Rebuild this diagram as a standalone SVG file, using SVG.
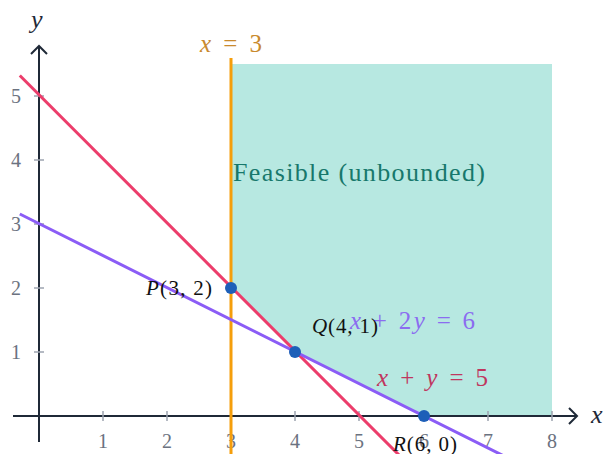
<svg xmlns="http://www.w3.org/2000/svg" width="603" height="454" viewBox="0 0 603 454">
<style>
.axis{stroke:#1f2937;stroke-width:2;fill:none}
.tick{stroke:#9ca3af;stroke-width:1.5}
.tl{font-family:"Liberation Serif",serif;font-size:20px;fill:#6b7280}
.m{font-family:"Liberation Serif",serif;font-style:italic}
.n{font-family:"Liberation Serif",serif;font-style:normal}
.pt{fill:#1d5fb8}
.lbl{font-family:"Liberation Serif",serif;font-size:21px;fill:#111}
</style>
<rect width="603" height="454" fill="#fff"/>
<g id="feasible">
<polygon points="231,64 552,64 552,416 424,416 295,352 231,288" fill="#b7e8e1"/>
<text x="233" y="181" font-family="Liberation Serif, serif" font-size="26" fill="#17786c" textLength="252">Feasible (unbounded)</text>
</g>
<g id="axes">
<line class="axis" x1="13" y1="416" x2="577" y2="416"/>
<path class="axis" d="M569,408 L577,416 L569,424"/>
<line class="axis" x1="39" y1="442" x2="39" y2="46"/>
<path class="axis" d="M31,54 L39,46 L47,54"/>
<g class="tick">
<line x1="103" y1="411" x2="103" y2="421"/><line x1="167" y1="411" x2="167" y2="421"/><line x1="231" y1="411" x2="231" y2="421"/><line x1="295" y1="411" x2="295" y2="421"/><line x1="359" y1="411" x2="359" y2="421"/><line x1="424" y1="411" x2="424" y2="421"/><line x1="488" y1="411" x2="488" y2="421"/><line x1="552" y1="411" x2="552" y2="421"/>
<line x1="34" y1="352" x2="44" y2="352"/><line x1="34" y1="288" x2="44" y2="288"/><line x1="34" y1="224" x2="44" y2="224"/><line x1="34" y1="160" x2="44" y2="160"/><line x1="34" y1="96" x2="44" y2="96"/>
</g>
<g class="tl" text-anchor="middle">
<text x="103" y="448">1</text><text x="167" y="448">2</text><text x="231" y="448">3</text><text x="295" y="448">4</text><text x="359" y="448">5</text><text x="424" y="448">6</text><text x="488" y="448">7</text><text x="552" y="448">8</text>
<text x="16" y="359">1</text><text x="16" y="295">2</text><text x="16" y="231">3</text><text x="16" y="167">4</text><text x="16" y="103">5</text>
</g>
<text class="m" x="591" y="423" font-size="26" fill="#1f2937">x</text>
<text class="m" x="31" y="28" font-size="26" fill="#1f2937">y</text>
</g>
<g id="connectors">
<line x1="231" y1="58" x2="231" y2="460" stroke="#f59e0b" stroke-width="3"/>
<line x1="19.8" y1="75.5" x2="411" y2="467" stroke="#ec3d6b" stroke-width="3"/>
<line x1="19.8" y1="214" x2="520" y2="464" stroke="#8b5cf6" stroke-width="3"/>
</g>
<g id="line-labels">
<text x="200" y="52" font-size="25" fill="#c98a2e" textLength="62"><tspan class="m">x</tspan><tspan class="n"> = 3</tspan></text>
<text x="350" y="329" font-size="25" fill="#8b6cf0" textLength="125"><tspan class="m">x</tspan><tspan class="n"> + 2</tspan><tspan class="m">y</tspan><tspan class="n"> = 6</tspan></text>
<text x="377" y="386" font-size="25" fill="#c0365e" textLength="111"><tspan class="m">x</tspan><tspan class="n"> + </tspan><tspan class="m">y</tspan><tspan class="n"> = 5</tspan></text>
</g>
<g id="P">
<circle class="pt" cx="231" cy="288" r="6"/>
<text class="lbl" x="146" y="295" textLength="66"><tspan class="m">P</tspan><tspan class="n">(3, 2)</tspan></text>
</g>
<g id="Q">
<circle class="pt" cx="295" cy="352" r="6"/>
<text class="lbl" x="312" y="333" textLength="66"><tspan class="m">Q</tspan><tspan class="n">(4, 1)</tspan></text>
</g>
<g id="R">
<circle class="pt" cx="424" cy="416" r="6"/>
<text class="lbl" x="393" y="451" textLength="64"><tspan class="m">R</tspan><tspan class="n">(6, 0)</tspan></text>
</g>
</svg>
